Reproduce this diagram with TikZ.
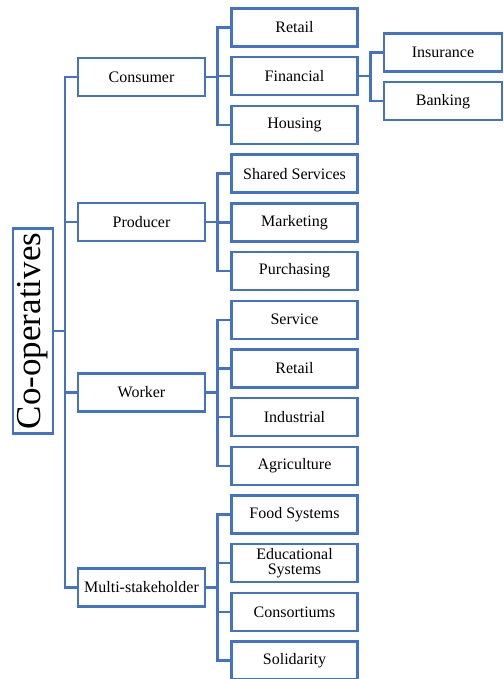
\documentclass[tikz,border=0pt]{standalone}
\usepackage{fontspec}
\setmainfont{Liberation Serif}
\usepackage{tikz}
\usetikzlibrary{positioning}

\definecolor{coopblue}{RGB}{68,114,196}

\tikzset{
  box/.style={draw=coopblue, line width=2.4pt, fill=white, inner sep=1pt, outer sep=0pt,
    align=center, font=\fontsize{16}{15}\selectfont},
  typebox/.style={box, minimum width=127pt, minimum height=38pt},
  subbox/.style={box, minimum width=126pt, minimum height=38pt},
  leafbox/.style={box, minimum width=118pt, minimum height=38pt},
  link/.style={draw=coopblue, line width=2.4pt},
}

\begin{document}
\begin{tikzpicture}[x=1pt, y=-1pt, node distance=10.7pt]
\useasboundingbox (0,0) rectangle (503,679);

% root
\node[box, rotate=90, minimum width=205pt, minimum height=40pt, inner sep=0pt,
  font=\fontsize{35}{35}\selectfont] (coop) at (33,331) {Co-operatives};

% types of co-operative
\node[typebox] (con) at (141.5,77) {Consumer};
\node[typebox] (pro) at (141.5,222) {Producer};
\node[typebox] (wor) at (141.5,392.5) {Worker};
\node[typebox] (mul) at (141.5,587.5) {Multi-stakeholder};

% sectors
\node[subbox] (ret) at (294.5,27.5) {Retail};
\node[subbox, below=of ret] (fin) {Financial};
\node[subbox, below=of fin] (hou) {Housing};
\node[subbox, below=of hou] (sha) {Shared Services};
\node[subbox, below=of sha] (mar) {Marketing};
\node[subbox, below=of mar] (pur) {Purchasing};
\node[subbox, below=of pur] (ser) {Service};
\node[subbox, below=of ser] (wret) {Retail};
\node[subbox, below=of wret] (ind) {Industrial};
\node[subbox, below=of ind] (agr) {Agriculture};
\node[subbox, below=of agr] (foo) {Food Systems};
\node[subbox, below=of foo] (edu) {Educational\\Systems};
\node[subbox, below=of edu] (cons) {Consortiums};
\node[subbox, below=of cons] (sol) {Solidarity};

% financial branches
\node[leafbox] (ins) at (443,52.5) {Insurance};
\node[leafbox, below=of ins] (ban) {Banking};

% trunk
\draw[link] (coop.south) -- ++(12,0) |- (con.west);
\draw[link] (coop.south) -- ++(12,0) |- (pro.west);
\draw[link] (coop.south) -- ++(12,0) |- (wor.west);
\draw[link] (coop.south) -- ++(12,0) |- (mul.west);

% consumer
\draw[link] (con.east) -- ++(12.5,0) |- (ret.west);
\draw[link] (con.east) -- ++(12.5,0) |- (fin.west);
\draw[link] (con.east) -- ++(12.5,0) |- (hou.west);

% producer
\draw[link] (pro.east) -- ++(12.5,0) |- (sha.west);
\draw[link] (pro.east) -- ++(12.5,0) |- (mar.west);
\draw[link] (pro.east) -- ++(12.5,0) |- (pur.west);

% worker
\draw[link] (wor.east) -- ++(12.5,0) |- (ser.west);
\draw[link] (wor.east) -- ++(12.5,0) |- (wret.west);
\draw[link] (wor.east) -- ++(12.5,0) |- (ind.west);
\draw[link] (wor.east) -- ++(12.5,0) |- (agr.west);

% multi-stakeholder
\draw[link] (mul.east) -- ++(12.5,0) |- (foo.west);
\draw[link] (mul.east) -- ++(12.5,0) |- (edu.west);
\draw[link] (mul.east) -- ++(12.5,0) |- (cons.west);
\draw[link] (mul.east) -- ++(12.5,0) |- (sol.west);

% financial
\draw[link] (fin.east) -- ++(13,0) |- (ins.west);
\draw[link] (fin.east) -- ++(13,0) |- (ban.west);
\end{tikzpicture}
\end{document}
